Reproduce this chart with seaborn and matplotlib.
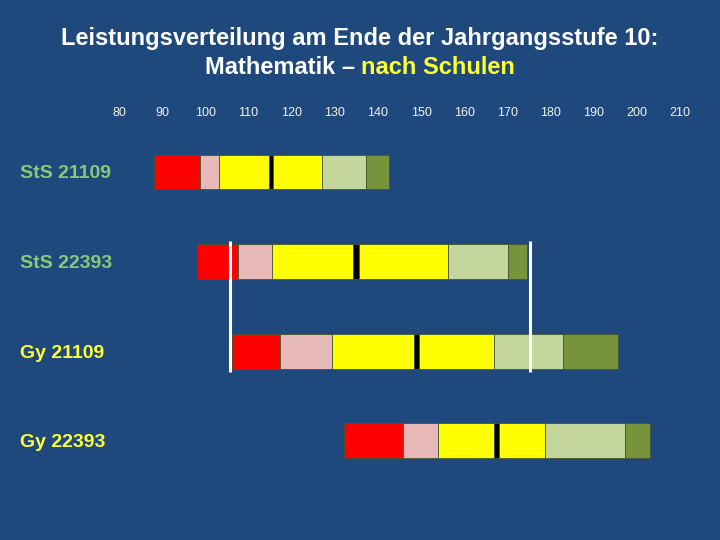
import matplotlib
matplotlib.use("Agg")
import pandas as pd
import matplotlib.pyplot as plt
import seaborn as sns

# Data (score scale), one value per school group
groups = ["StS 21109", "StS 22393", "Gy 21109", "Gy 22393"]
label_colors = ["#86C97A", "#86C97A", "#FFFF33", "#FFFF33"]

p05 = [88.1, 98.0, 106.3, 132.1]
p10 = [98.8, 107.6, 117.3, 145.9]
p25 = [103.2, 115.5, 129.4, 154.0]
ci_lo = [114.7, 134.3, 148.4, 167.0]   # median confidence band (black)
ci_hi = [115.8, 135.6, 149.6, 168.0]
p75 = [127.1, 156.3, 167.0, 178.8]
p90 = [137.2, 170.2, 182.9, 197.2]
p95 = [142.6, 174.6, 195.6, 203.1]

ref_lines = [105.7, 175.2]
ref_span = [0.77, 2.23]
x_ticks = list(range(80, 211, 10))

BG = "#1F497D"

segments = [
    (p05, p10, "#FF0000"),
    (p10, p25, "#E6B9B8"),
    (p25, ci_lo, "#FFFF00"),
    (ci_lo, ci_hi, "#000000"),
    (ci_hi, p75, "#FFFF00"),
    (p75, p90, "#C3D69B"),
    (p90, p95, "#77933C"),
]

sns.set_theme(style="white")
plt.rcParams["font.family"] = ["Liberation Sans", "DejaVu Sans"]

fig = plt.figure(figsize=(7.2, 5.4), dpi=100, facecolor=BG)
ax = fig.add_axes([119 / 720, 40 / 540, 561 / 720, 380 / 540])
ax.set_facecolor(BG)

# Stacked horizontal segments, each drawn from its own start value
for start, end, color in segments:
    df = pd.DataFrame({
        "group": groups,
        "start": start,
        "width": [e - s for s, e in zip(start, end)],
    })
    sns.barplot(data=df, x="width", y="group", left=df["start"].to_numpy(),
                color=color, saturation=1, width=0.39, errorbar=None,
                edgecolor="#46552F", linewidth=0.6, ax=ax)

ax.vlines(ref_lines, ref_span[0], ref_span[1], color="white", linewidth=2.2)

ax.set_xlim(80, 210)
ax.set_ylim(3.66, -0.58)
ax.xaxis.tick_top()
ax.set_xticks(x_ticks)
ax.set_xticklabels([str(t) for t in x_ticks])
ax.tick_params(axis="x", length=0, pad=1, labelsize=9, labelcolor="#F2F2F2")
ax.tick_params(axis="y", length=0, pad=71)
ax.set_xlabel("")
ax.set_ylabel("")
for lab, c in zip(ax.get_yticklabels(), label_colors):
    lab.set_color(c)
    lab.set_fontsize(14)
    lab.set_fontweight("bold")
    lab.set_horizontalalignment("left")
for s in ax.spines.values():
    s.set_visible(False)
ax.grid(False)

# Title, second line partly in yellow
fig.text(0.5, 1 - 38 / 540, "Leistungsverteilung am Ende der Jahrgangsstufe 10:",
         color="white", fontsize=17, fontweight="bold", ha="center", va="center")
t1 = fig.text(0, 1 - 67 / 540, "Mathematik – ", color="white", fontsize=17,
              fontweight="bold", ha="left", va="center")
t2 = fig.text(0, 1 - 67 / 540, "nach Schulen", color="#FFFF33", fontsize=17,
              fontweight="bold", ha="left", va="center")
fig.canvas.draw()
r = fig.canvas.get_renderer()
w1 = t1.get_window_extent(r).width / fig.bbox.width
w2 = t2.get_window_extent(r).width / fig.bbox.width
x0 = 0.5 - (w1 + w2) / 2
t1.set_x(x0)
t2.set_x(x0 + w1)

fig.savefig("out.png", dpi=100, facecolor=BG)
